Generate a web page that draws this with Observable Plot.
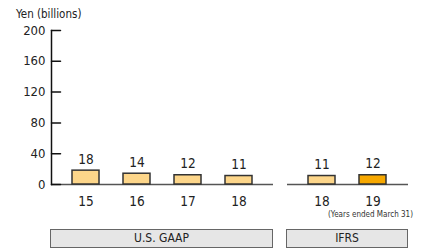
<!DOCTYPE html>
<html>
<head>
<meta charset="utf-8">
<script src="https://cdn.jsdelivr.net/npm/d3@7"></script>
<script src="https://cdn.jsdelivr.net/npm/@observablehq/plot@0.6"></script>
<style>
  html, body { margin: 0; padding: 0; background: #fff; }
  #chart { position: relative; width: 426px; height: 251px; overflow: hidden;
    font-family: "DejaVu Sans", sans-serif; font-stretch: condensed; color: #222; }
  #chart svg { position: absolute; top: 0; font-stretch: condensed; }
  .ytitle { position: absolute; left: 16px; top: 7px; font-size: 11.5px; }
  .note { position: absolute; right: 13px; top: 210px; font-size: 8px; color: #333; }
  .section { position: absolute; top: 229px; height: 17px; box-sizing: content-box;
    background: #e6e6e6; border: 1.5px solid #666; text-align: center; font-size: 12px; line-height: 17px; }
</style>
</head>
<body>
<div id="chart"></div>
<script>
const usYears = ["15", "16", "17", "18"];
const usValues = [18, 14, 12, 11];
const ifrsYears = ["18", "19"];
const ifrsValues = [11, 12];
const highlightYear = "19";
const yTicks = [0, 40, 80, 120, 160, 200];
const sections = ["U.S. GAAP", "IFRS"];
const yTitle = "Yen (billions)";
const note = "(Years ended March 31)";

const font = '"DejaVu Sans", sans-serif';
const lightFill = "#fdd68a";
const darkFill = "#f7a800";

const tickShape = { draw(context, l) { context.moveTo(0, 0); context.lineTo(0, -l); } };

function panel(years, values, opts) {
  const data = years.map((y, i) => ({ year: y, value: values[i] }));
  const marks = [
    Plot.ruleY([0], { stroke: "#555", strokeWidth: 1.5 }),
    Plot.barY(data, {
      x: "year", y: "value",
      fill: d => (opts.highlight && d.year === highlightYear) ? darkFill : lightFill,
      stroke: "#333", strokeWidth: 1.5
    }),
    Plot.text(data, { x: "year", y: "value", text: d => String(d.value), lineAnchor: "bottom", dy: -7, fontSize: 13.5, fill: "#222" }),
    Plot.axisX({ tickSize: 0, tickPadding: 12, label: null, fontSize: 13.5, fill: "#222" })
  ];
  if (opts.yAxis) {
    marks.push(
      Plot.frame({ anchor: "left", stroke: "#111", strokeWidth: 1.5 }),
      Plot.axisY({ ticks: yTicks, tickSize: 0, tickPadding: 6, label: null, fontSize: 13, fill: "#222" }),
      Plot.vector(yTicks, { y: d => d, frameAnchor: "left", length: 9, rotate: 90, anchor: "start", shape: tickShape, stroke: "#111", strokeWidth: 1.5 })
    );
  }
  return Plot.plot({
    width: opts.width,
    height: 251,
    marginTop: 30,
    marginBottom: 67,
    marginLeft: opts.marginLeft,
    marginRight: opts.marginRight,
    style: { fontFamily: font, background: "transparent", color: "#222" },
    x: { type: "band", domain: years, paddingInner: 0.47, paddingOuter: 0.41, axis: null },
    y: { domain: [0, 200], axis: null },
    marks
  });
}

const chart = document.getElementById("chart");
const left = panel(usYears, usValues, { width: 280, marginLeft: 51, marginRight: 7, yAxis: true });
left.style.left = "0px";
const right = panel(ifrsYears, ifrsValues, { width: 146, marginLeft: 7, marginRight: 18, highlight: true });
right.style.left = "280px";
chart.appendChild(left);
chart.appendChild(right);

const t = document.createElement("div"); t.className = "ytitle"; t.textContent = yTitle; chart.appendChild(t);
const n = document.createElement("div"); n.className = "note"; n.textContent = note; chart.appendChild(n);

const boxes = [{ left: 50, width: 221 }, { left: 286, width: 120 }];
sections.forEach((s, i) => {
  const b = document.createElement("div");
  b.className = "section";
  b.style.left = boxes[i].left + "px";
  b.style.width = boxes[i].width + "px";
  b.textContent = s;
  chart.appendChild(b);
});
</script>
</body>
</html>
